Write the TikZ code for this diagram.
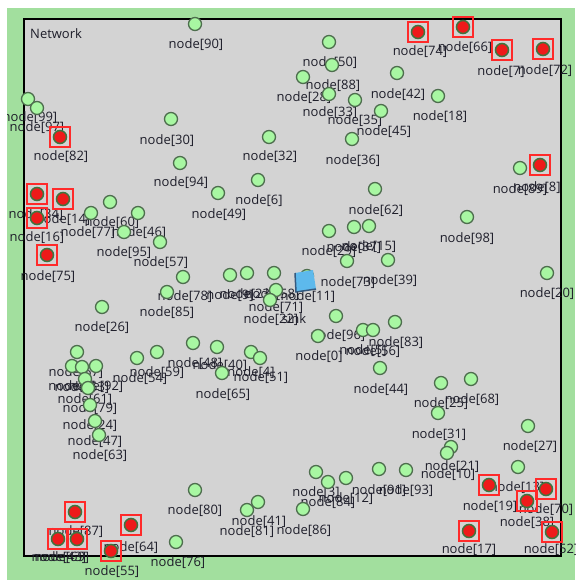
\documentclass[tikz,border=0pt]{standalone}
\usepackage{fontspec}
\setmainfont{Open Sans}
\definecolor{bggreen}{HTML}{A2DF9E}
\definecolor{netgrey}{HTML}{D3D3D3}
\definecolor{nfill}{HTML}{A8F7A2}
\definecolor{nedge}{HTML}{4E6E4E}
\definecolor{rfill}{HTML}{EE1A1A}
\definecolor{redge}{HTML}{3F743F}
\definecolor{rsq}{HTML}{FF2A2A}
\definecolor{lbl}{HTML}{1E1E2A}
\definecolor{sinkblue}{HTML}{5DB9EC}
\definecolor{sinkedge}{HTML}{34597E}
\tikzset{
  gnode/.style={circle, draw=nedge, fill=nfill, line width=1.3pt, minimum size=13pt, inner sep=0pt},
  rnode/.style={circle, draw=redge, fill=rfill, line width=1.5pt, minimum size=13pt, inner sep=0pt},
  rbox/.style={rectangle, draw=rsq, line width=1.2pt, minimum size=20pt, inner sep=0pt},
  lab/.style={font=\fontsize{13}{13}\selectfont, text=lbl, inner sep=0pt, anchor=center},
  netbox/.style={fill=netgrey, draw=black, line width=2pt},
}
\newcommand\NetNodeList{%
\NodeG{90}{195}{24}{196}{45}
\NodeG{50}{329}{42}{330}{63}
\NodeG{88}{332}{65}{333}{86}
\NodeG{28}{303}{77}{304}{98}
\NodeG{42}{397}{73}{398}{95}
\NodeG{33}{329}{94}{330}{113}
\NodeG{35}{355}{100}{355}{121}
\NodeG{45}{381}{111}{384}{132}
\NodeG{18}{438}{96}{440}{117}
\NodeG{99}{28}{99}{30}{118}
\NodeG{97}{37}{108}{37}{128}
\NodeG{30}{171}{119}{167}{141}
\NodeG{32}{269}{137}{270}{157}
\NodeG{36}{352}{139}{353}{161}
\NodeG{94}{180}{163}{181}{183}
\NodeG{6}{258}{180}{259}{201}
\NodeG{49}{218}{193}{219}{215}
\NodeG{62}{375}{189}{376}{211}
\NodeG{89}{520}{168}{520}{190}
\NodeG{60}{110}{202}{112}{223}
\NodeG{77}{91}{213}{88}{233}
\NodeG{46}{138}{213}{139}{233}
\NodeG{95}{124}{232}{124}{253}
\NodeG{57}{160}{242}{161}{263}
\NodeG{98}{467}{217}{467}{239}
\NodeG{29}{329}{231}{329}{252}
\NodeG{37}{354}{227}{354}{248}
\NodeG{15}{369}{226}{369}{247}
\NodeG{73}{347}{261}{348}{283}
\NodeG{39}{388}{260}{390}{281}
\NodeG{20}{547}{273}{547}{294}
\NodeG{78}{183}{277}{185}{297}
\NodeG{85}{167}{292}{167}{313}
\NodeG{9}{230}{275}{230}{296}
\NodeG{23}{247}{273}{247}{295}
\NodeG{58}{274}{273}{272}{295}
\NodeG{11}{307}{276}{308}{297}
\NodeG{71}{276}{290}{276}{308}
\NodeG{22}{270}{300}{271}{320}
\NodeG{26}{102}{307}{102}{328}
\NodeG{96}{336}{316}{338}{336}
\NodeG{0}{318}{336}{319}{357}
\NodeG{5}{363}{330}{363}{351}
\NodeG{56}{373}{330}{373}{352}
\NodeG{83}{395}{322}{396}{343}
\NodeG{67}{77}{352}{76}{373}
\NodeG{54}{137}{358}{140}{379}
\NodeG{59}{157}{352}{157}{373}
\NodeG{1}{72}{366}{72}{387}
\NodeG{53}{82}{367}{82}{388}
\NodeG{92}{96}{366}{96}{387}
\NodeG{61}{85}{379}{85}{400}
\NodeG{79}{88}{388}{90}{409}
\NodeG{24}{90}{405}{90}{426}
\NodeG{47}{95}{421}{95}{442}
\NodeG{63}{99}{435}{100}{456}
\NodeG{48}{193}{343}{195}{364}
\NodeG{40}{217}{347}{220}{366}
\NodeG{4}{251}{352}{251}{373}
\NodeG{51}{260}{358}{261}{378}
\NodeG{65}{222}{373}{223}{395}
\NodeG{44}{380}{368}{381}{390}
\NodeG{25}{441}{383}{441}{404}
\NodeG{68}{471}{379}{472}{400}
\NodeG{31}{438}{413}{439}{435}
\NodeG{21}{451}{447}{452}{467}
\NodeG{10}{447}{453}{448}{475}
\NodeG{27}{528}{426}{530}{447}
\NodeG{13}{518}{467}{517}{488}
\NodeG{80}{195}{490}{195}{511}
\NodeG{41}{258}{502}{259}{522}
\NodeG{81}{247}{510}{247}{532}
\NodeG{86}{303}{509}{304}{531}
\NodeG{3}{316}{472}{316}{493}
\NodeG{84}{328}{482}{328}{503}
\NodeG{12}{346}{478}{346}{499}
\NodeG{91}{379}{469}{379}{491}
\NodeG{93}{406}{470}{406}{491}
\NodeG{76}{176}{542}{178}{563}
\NodeR{82}{60}{137}{61}{157}
\NodeR{34}{37}{194}{36}{215}
\NodeR{14}{63}{199}{63}{220}
\NodeR{16}{37}{218}{37}{238}
\NodeR{75}{47}{255}{48}{277}
\NodeR{74}{418}{32}{420}{52}
\NodeR{66}{463}{27}{465}{48}
\NodeR{7}{502}{50}{501}{72}
\NodeR{72}{543}{49}{545}{71}
\NodeR{8}{540}{165}{537}{188}
\NodeR{87}{75}{512}{76}{532}
\NodeR{43}{58}{539}{59}{558}
\NodeR{69}{77}{539}{62}{558}
\NodeR{64}{131}{525}{131}{548}
\NodeR{55}{111}{551}{112}{572}
\NodeR{19}{489}{485}{490}{507}
\NodeR{70}{546}{489}{546}{510}
\NodeR{38}{527}{501}{527}{523}
\NodeR{52}{552}{532}{551}{550}
\NodeR{17}{469}{531}{469}{550}
}
\begin{document}
\begin{tikzpicture}[x=1pt,y=-1pt]
\useasboundingbox (0,0) rectangle (575,580);
\begin{scope}
\clip (7,8) rectangle (575,580);
\fill[bggreen] (7,8) rectangle (575,580);
\draw[netbox] (24,19) rectangle (561,556);
\node[lab, anchor=west] (title) at (30,34) {Network};
% labels (drawn first, under the nodes)
\def\NodeG#1#2#3#4#5{\node[lab] (l#1) at (#4,#5) {node[#1]};}
\let\NodeR\NodeG
\NetNodeList
\node[lab] (lsink) at (294,319) {sink};
% nodes
\def\NodeG#1#2#3#4#5{\node[gnode] (n#1) at (#2,#3) {};}
\def\NodeR#1#2#3#4#5{\node[rbox] (q#1) at (#2,#3) {}; \node[rnode] (n#1) at (#2,#3) {};}
\NetNodeList
% sink icon
\coordinate (sink) at (304,281);
\fill[sinkblue] (295,273) -- (313,270) -- (316,289) -- (296,292) -- cycle;
\draw[sinkedge, line width=1.5pt] (295,273) -- (296,292) -- (316,289);
\end{scope}
\end{tikzpicture}
\end{document}
